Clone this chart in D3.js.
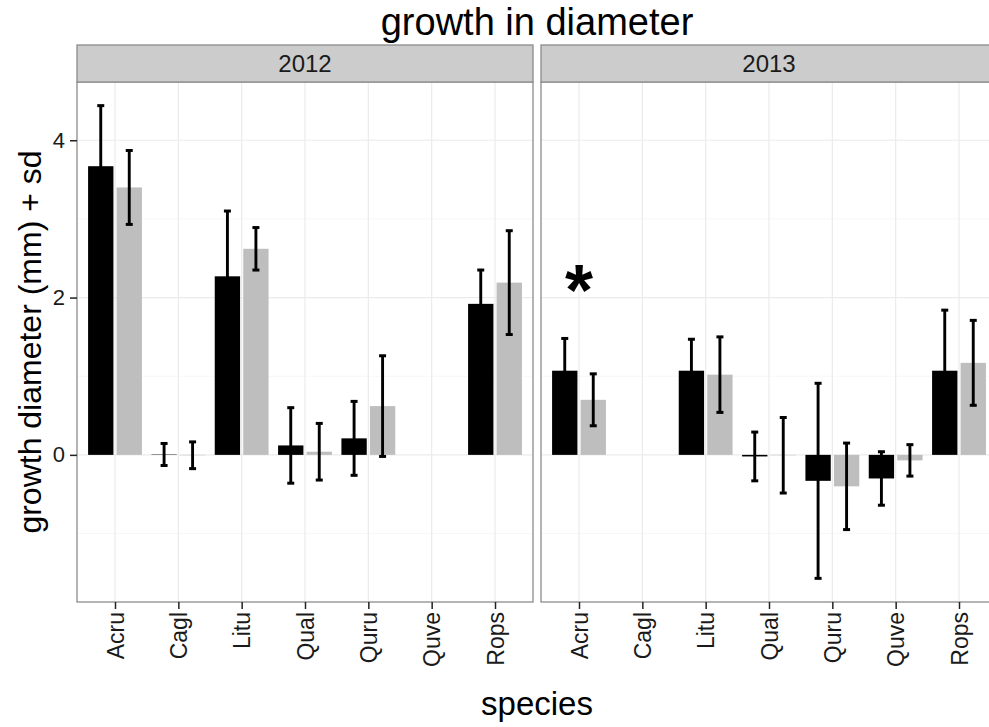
<!DOCTYPE html>
<html>
<head>
<meta charset="utf-8">
<script src="https://cdn.jsdelivr.net/npm/d3@7"></script>
<style>
  body { margin: 0; background: #fff; }
  text { font-family: "Liberation Sans", Arial, sans-serif; }
</style>
</head>
<body>
<svg id="chart" width="989" height="727"></svg>
<script>
// categories
const species = ["Acru", "Cagl", "Litu", "Qual", "Quru", "Quve", "Rops"]
const years = ["2012", "2013"]
const groups = ["group1", "group2"]

// mean growth (mm) per species, null = no data
const mean2012g1 = [3.67, 0.005, 2.27, 0.12, 0.21, null, 1.92]
const sd2012g1   = [0.77, 0.14, 0.83, 0.48, 0.47, null, 0.43]
const mean2012g2 = [3.40, -0.005, 2.62, 0.04, 0.62, null, 2.19]
const sd2012g2   = [0.47, 0.17, 0.27, 0.36, 0.64, null, 0.66]
const mean2013g1 = [1.07, null, 1.07, -0.02, -0.33, -0.30, 1.07]
const sd2013g1   = [0.41, null, 0.40, 0.31, 1.24, 0.34, 0.77]
const mean2013g2 = [0.70, null, 1.02, -0.005, -0.40, -0.07, 1.17]
const sd2013g2   = [0.33, null, 0.48, 0.48, 0.55, 0.20, 0.54]

const yTicks = [0, 2, 4]
const yMinor = [-1, 1, 3]

// significance mark
const marks = [{ year: "2013", species: "Acru", y: 2.2, label: "*" }]

// build rows
const table = {
    "2012": { group1: [mean2012g1, sd2012g1], group2: [mean2012g2, sd2012g2] },
    "2013": { group1: [mean2013g1, sd2013g1], group2: [mean2013g2, sd2013g2] }
}
let rows = []
years.forEach(yr => {
    groups.forEach(g => {
        species.forEach((sp, i) => {
            let m = table[yr][g][0][i], s = table[yr][g][1][i]
            if (m !== null) rows.push({ year: yr, group: g, species: sp, mean: m, sd: s })
        })
    })
})

const svg = d3.select("#chart")
const panelW = 456, panelGap = 8, plotLeft = 77, plotTop = 82, plotBottom = 602
const stripTop = 45

const fillColor = { group1: "#000000", group2: "#bebebe" }

// y scale with ggplot like 5% expansion
let lo = d3.min(rows, d => d.mean - d.sd), hi = d3.max(rows, d => d.mean + d.sd)
let pad = (hi - lo) * 0.05
const y = d3.scaleLinear().domain([lo - pad, hi + pad]).range([plotBottom, plotTop])

const x = d3.scalePoint().domain(species).range([0, panelW]).padding(0.6)
const step = x.step()
const xg = d3.scaleBand().domain(groups).range([-0.45 * step, 0.45 * step])

years.forEach((yr, pi) => {
    let px = plotLeft + pi * (panelW + panelGap)
    let g = svg.append("g").attr("transform", "translate(" + px + ",0)")

    // grid
    g.selectAll(".minor").data(yMinor).enter().append("line")
        .attr("x1", 0).attr("x2", panelW)
        .attr("y1", d => y(d)).attr("y2", d => y(d))
        .attr("stroke", "#f7f7f7").attr("stroke-width", 1)
    g.selectAll(".major").data(yTicks).enter().append("line")
        .attr("x1", 0).attr("x2", panelW)
        .attr("y1", d => y(d)).attr("y2", d => y(d))
        .attr("stroke", "#ebebeb").attr("stroke-width", 1.2)
    g.selectAll(".vgrid").data(species).enter().append("line")
        .attr("x1", d => x(d)).attr("x2", d => x(d))
        .attr("y1", plotTop).attr("y2", plotBottom)
        .attr("stroke", "#ebebeb").attr("stroke-width", 1.2)

    let data = rows.filter(r => r.year == yr)

    // bars
    g.selectAll(".bar").data(data).enter().append("rect")
        .attr("x", d => x(d.species) + xg(d.group) + xg.bandwidth() * 0.0556)
        .attr("width", xg.bandwidth() * 0.889)
        .attr("y", d => y(Math.max(0, d.mean)))
        .attr("height", d => Math.abs(y(d.mean) - y(0)))
        .attr("fill", d => fillColor[d.group])

    // error bars
    let eb = g.selectAll(".err").data(data).enter().append("g")
        .attr("transform", d => "translate(" + (x(d.species) + xg(d.group) + xg.bandwidth() / 2) + ",0)")
    eb.append("line")
        .attr("y1", d => y(d.mean - d.sd)).attr("y2", d => y(d.mean + d.sd))
        .attr("stroke", "#000").attr("stroke-width", 2.9)
    eb.selectAll(".cap").data(d => [d.mean - d.sd, d.mean + d.sd]).enter().append("line")
        .attr("x1", -3.5).attr("x2", 3.5)
        .attr("y1", d => y(d)).attr("y2", d => y(d))
        .attr("stroke", "#000").attr("stroke-width", 3)

    // marks
    g.selectAll(".mark").data(marks.filter(m => m.year == yr)).enter().append("text")
        .attr("x", d => x(d.species))
        .attr("y", d => y(d.y))
        .attr("dy", "0.46em")
        .attr("text-anchor", "middle")
        .attr("font-size", 72).attr("font-weight", "bold")
        .text(d => d.label)

    // border
    g.append("rect").attr("x", 0).attr("y", plotTop).attr("width", panelW).attr("height", plotBottom - plotTop)
        .attr("fill", "none").attr("stroke", "#8c8c8c").attr("stroke-width", 1.3)

    // strip
    g.append("rect").attr("x", 0).attr("y", stripTop).attr("width", panelW).attr("height", plotTop - stripTop)
        .attr("fill", "#cccccc").attr("stroke", "#8c8c8c").attr("stroke-width", 1.3)
    g.append("text").attr("x", panelW / 2).attr("y", 72)
        .attr("text-anchor", "middle").attr("font-size", 24).attr("fill", "#1a1a1a")
        .text(yr)

    // x axis
    let ax = g.append("g").attr("transform", "translate(0," + plotBottom + ")")
        .call(d3.axisBottom(x).tickSize(7).tickPadding(4))
    ax.select(".domain").remove()
    ax.selectAll(".tick line").attr("stroke", "#222").attr("stroke-width", 1.5)
    ax.selectAll(".tick text")
        .attr("transform", "rotate(-90)")
        .attr("text-anchor", "end")
        .attr("x", -10).attr("y", 0).attr("dy", "0.36em")
        .attr("font-size", 23).attr("fill", "#1a1a1a")
        .style("font-family", "Liberation Sans, Arial, sans-serif")
})

// y axis
let ay = svg.append("g").attr("transform", "translate(" + plotLeft + ",0)")
    .call(d3.axisLeft(y).tickValues(yTicks).tickFormat(d3.format("d")).tickSize(7).tickPadding(5))
ay.select(".domain").remove()
ay.selectAll(".tick line").attr("stroke", "#222").attr("stroke-width", 1.5)
ay.selectAll(".tick text").attr("font-size", 22).attr("fill", "#1a1a1a")
    .style("font-family", "Liberation Sans, Arial, sans-serif")

// titles
let fullW = 2 * panelW + panelGap
svg.append("text").attr("x", plotLeft + fullW / 2).attr("y", 35)
    .attr("text-anchor", "middle").attr("font-size", 38).text("growth in diameter")
svg.append("text").attr("x", plotLeft + fullW / 2).attr("y", 715)
    .attr("text-anchor", "middle").attr("font-size", 33).text("species")
svg.append("text")
    .attr("transform", "translate(41," + (plotTop + plotBottom) / 2 + ")rotate(-90)")
    .attr("text-anchor", "middle").attr("font-size", 32).text("growth diameter (mm) + sd")
</script>
</body>
</html>
